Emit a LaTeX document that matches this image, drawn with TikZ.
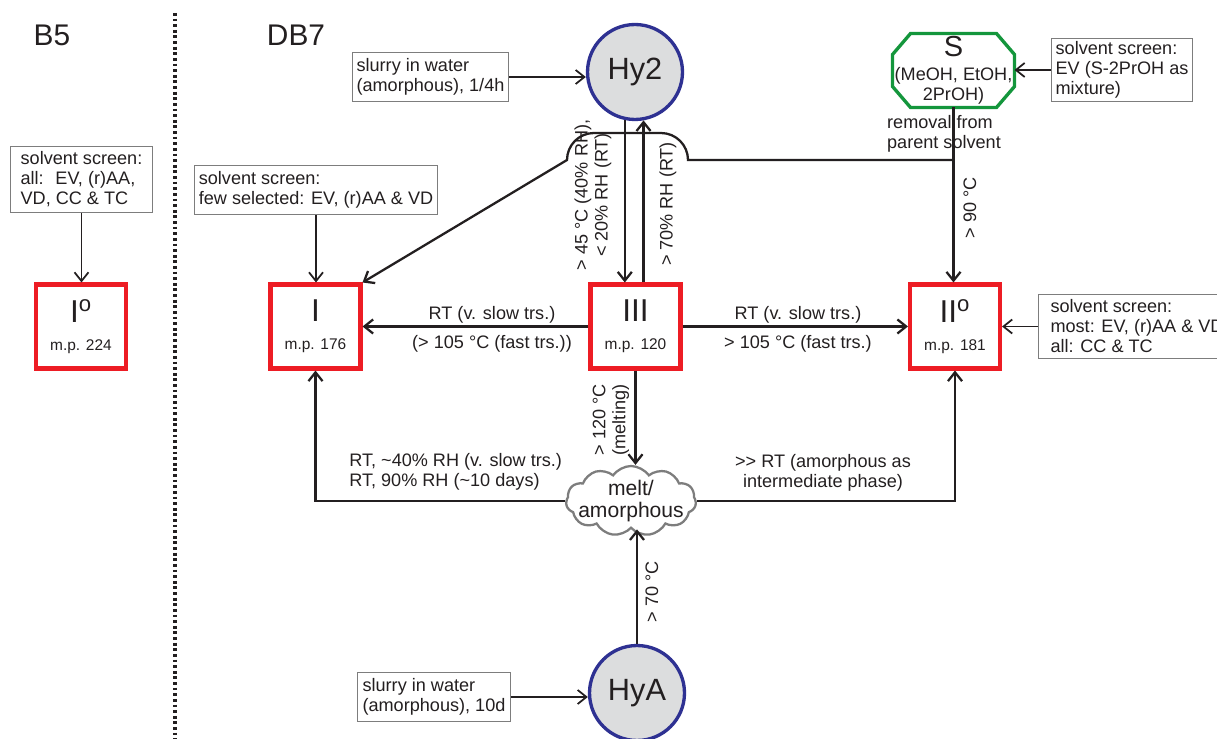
\documentclass[tikz,border=0pt]{standalone}
\usepackage{fontspec}
\setmainfont{Liberation Sans}
\usepackage{tikz}
\usetikzlibrary{positioning}
\usetikzlibrary{shapes.symbols,arrows.meta}
\usepackage{xcolor}
\definecolor{formred}{RGB}{237,28,36}
\definecolor{hyblue}{RGB}{46,49,146}
\definecolor{hygray}{RGB}{220,221,222}
\definecolor{solvgreen}{RGB}{20,150,60}
\definecolor{boxgray}{RGB}{125,125,125}
\definecolor{cloudgray}{RGB}{125,125,125}
\definecolor{textcol}{RGB}{35,31,32}
\newcommand{\lblfont}{\fontsize{10.3}{11.4}\selectfont}
\newcommand{\headfont}{\fontsize{17}{20}\selectfont}
\newcommand{\formfont}{\fontsize{18}{21}\selectfont}
\newcommand{\mpfont}{\fontsize{8.8}{10.6}\selectfont}
\newcommand{\hyfont}{\fontsize{17.5}{20}\selectfont}
\newcommand{\solvfont}{\fontsize{16.5}{19}\selectfont}
\newcommand{\cloudfont}{\fontsize{12}{12.5}\selectfont}

\begin{document}
\begin{tikzpicture}[>={Straight Barb[length=5pt,width=8pt]},x=0.02cm,y=-0.02cm,
  every node/.style={text=textcol,font=\lblfont},
  form/.style={draw=formred,line width=2.3pt,minimum width=1.8cm,minimum height=1.68cm,inner sep=0pt,align=center,font=\mpfont},
  hydrate/.style={circle,draw=hyblue,fill=hygray,line width=1.9pt,minimum size=1.9cm,inner sep=0pt,font=\hyfont},
  screen/.style={draw=boxgray,line width=0.6pt,align=left,inner sep=0pt},
  trs/.style={->,line width=1.3pt,draw=textcol},
  feed/.style={->,line width=1pt,draw=textcol},
  cond/.style={align=center,inner sep=0pt}]
  \useasboundingbox (0,0) rectangle (1217,739);
  \clip (0,0) rectangle (1217,739);
  % the two systems, split by a dotted line
  \node[font=\headfont] (b5) at (52,35) {B5};
  \node[font=\headfont] (db7) at (296,35) {DB7};
  \draw[textcol,line width=2pt,dash pattern=on 1.6pt off 1.6pt] (175,13) -- (175,739);

  % B5: only form I^o
  \node[screen,minimum width=2.84cm,minimum height=1.32cm] (scrB) at (81.5,179.5) {solvent screen:\\all:~ EV, (r)AA,\\VD, CC \& TC};
  \node[form] (Io) at (81,326.5) {{\formfont I\textsuperscript{o}}\\[5.3pt]m.p. 224};
  \draw[feed] (scrB.south) -- (scrB.south |- Io.north);

  % DB7: anhydrates, hydrates, solvate and the melt
  \node[form] (I) at (315.5,326.5) {{\formfont I}\\[5.3pt]m.p. 176};
  \node[form] (III) at (635.5,326.5) {{\formfont III}\\[5.3pt]m.p. 120};
  \node[form] (IIo) at (955,326.5) {{\formfont II\textsuperscript{o}}\\[5.3pt]m.p. 181};
  \node[hydrate] (Hy2) at (635,72) {Hy2};
  \node[hydrate] (HyA) at (637,693) {HyA};
  \node[minimum width=2.44cm,minimum height=1.48cm,inner sep=0pt,outer sep=0pt,align=center] (S) at (953.5,70.5) {{\solvfont S}\\[2.3pt](MeOH, EtOH,\\2PrOH)};
  \draw[solvgreen,line width=1.9pt] ([xshift=0.36cm]S.north west) -- ([xshift=-0.36cm]S.north east) -- ([yshift=-0.42cm]S.north east) -- ([yshift=0.42cm]S.south east) -- ([xshift=-0.36cm]S.south east) -- ([xshift=0.36cm]S.south west) -- ([yshift=0.42cm]S.south west) -- ([yshift=-0.42cm]S.north west) -- cycle;
  \node[cloud,cloud puffs=11,cloud puff arc=110,aspect=2,draw=cloudgray,line width=1.3pt,fill=white,inner sep=-0.4cm,minimum width=2.6cm,minimum height=1.4cm,align=center,font=\cloudfont] (melt) at (631,501) {melt/\\amorphous};

  % where the forms come from
  \node[screen,minimum width=4.86cm,minimum height=0.98cm] (scrI) at (316,190) {solvent screen:\\few selected: EV, (r)AA \& VD};
  \node[screen,minimum width=3.12cm,minimum height=0.98cm] (slyHy2) at (430.5,77) {slurry in water\\(amorphous), 1/4h};
  \node[screen,minimum width=2.82cm,minimum height=1.26cm] (scrS) at (1122,70) {solvent screen:\\EV (S-2PrOH as\\mixture)};
  \node[screen,anchor=west,inner xsep=0.24cm,minimum height=1.28cm] (scrII) at (1038,326.5) {solvent screen:\\most: EV, (r)AA \& VD\\all: CC \& TC};
  \node[screen,minimum width=3.06cm,minimum height=0.98cm] (slyHyA) at (434,697) {slurry in water\\(amorphous), 10d};
  \draw[feed] (scrI.south) -- (scrI.south |- I.north);
  \draw[feed] (slyHy2.east) -- (slyHy2.east -| Hy2.west);
  \draw[feed] (scrS.west) -- (scrS.west -| S.east);
  \draw[feed] (scrII.west) -- (scrII.west -| IIo.east);
  \draw[feed] (slyHyA.east) -- (slyHyA.east -| HyA.west);

  % transformations
  \node[cond,align=left] (rmlbl) at (944,134) {removal from\\parent solvent};
  \draw[trs] (Hy2.258) -- (Hy2.258 |- III.north);
  \draw[trs] (Hy2.280 |- III.north) -- (Hy2.280);
  \draw[trs] (III.west) -- (I.east);
  \draw[trs] (III.east) -- (IIo.west);
  \draw[trs] (III.south) -- (III.south |- melt.north);
  \draw[trs] (melt.west) -| (I.south);
  \draw[trs] (melt.east) -| (IIo.south);
  \draw[trs] (HyA.north) -- (HyA.north |- melt.south);
  \draw[trs] (S.south) -- (S.south |- IIo.north);
  \coordinate (split) at (S.south |- 0,160);
  \draw[trs] (split) -- (688,160) arc[start angle=0,end angle=90,radius=0.54cm] -- (594,133) arc[start angle=90,end angle=180,radius=0.54cm] -- (I.north east);

  % conditions
  \node[cond,rotate=90] (lbl90) at (970,208) {> 90 °C};
  \node[cond,rotate=90] (lbl45) at (593,195) {> 45 °C (40\% RH),\\< 20\% RH (RT)};
  \node[cond,rotate=90] (lbl70) at (668,204) {> 70\% RH (RT)};
  \node[cond] (lblIa) at (492,315) {RT (v. slow trs.)};
  \node[cond] (lblIb) at (492,344) {(> 105 °C (fast trs.))};
  \node[cond] (lblIIa) at (798,315) {RT (v. slow trs.)};
  \node[cond] (lblIIb) at (798,344) {> 105 °C (fast trs.)};
  \node[cond,rotate=90] (lbl120) at (611,420) {> 120 °C\\(melting)};
  \node[cond,align=left,anchor=west] (lblRT) at (349,472) {RT, \textasciitilde 40\% RH (v. slow trs.)\\RT, 90\% RH (\textasciitilde 10 days)};
  \node[cond] (lblAm) at (823,473) {{>}{>} RT (amorphous as\\intermediate phase)};
  \node[cond,rotate=90] (lbl70C) at (652,592) {> 70 °C};
\end{tikzpicture}
\end{document}
